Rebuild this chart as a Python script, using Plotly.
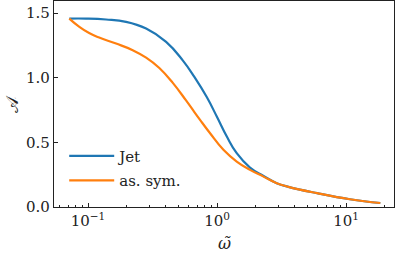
import plotly.graph_objects as go
import numpy as np

omega_jet = [0.0716, 0.0965, 0.138, 0.197, 0.282, 0.403, 0.542, 0.667, 0.832, 0.995, 1.19, 1.42, 1.80, 2.29, 2.90, 3.57, 5.96, 10.7, 18.4]
A_jet = [1.457, 1.457, 1.450, 1.432, 1.380, 1.277, 1.134, 1.006, 0.850, 0.700, 0.545, 0.416, 0.305, 0.240, 0.184, 0.156, 0.107, 0.060, 0.031]

omega_sym = [0.0716, 0.0857, 0.102, 0.122, 0.165, 0.222, 0.282, 0.357, 0.454, 0.575, 0.667, 0.738, 0.883, 1.12, 1.42, 1.80, 2.29, 2.90, 3.57, 5.96, 10.7, 18.4]
A_sym = [1.457, 1.393, 1.345, 1.310, 1.264, 1.213, 1.155, 1.075, 0.960, 0.824, 0.734, 0.674, 0.570, 0.442, 0.351, 0.287, 0.235, 0.184, 0.156, 0.107, 0.060, 0.031]

x_major = [0.1, 1, 10]
x_major_text = ["10<sup>−1</sup>", "10<sup>0</sup>", "10<sup>1</sup>"]
x_minor = [m * d for d in (0.01, 0.1, 1, 10) for m in range(2, 10)]
y_ticks = [0.0, 0.5, 1.0, 1.5]

FONT = "DejaVu Serif"
FS = 15

fig = go.Figure()
fig.add_trace(go.Scatter(x=omega_jet, y=A_jet, mode="lines", name="Jet", legendgroup="a",
                         line=dict(color="#1f77b4", width=2.2, shape="spline", smoothing=1.3)))
fig.add_trace(go.Scatter(x=omega_sym, y=A_sym, mode="lines", name="as. sym.", legendgroup="b",
                         line=dict(color="#ff7f0e", width=2.2, shape="spline", smoothing=1.3)))

fig.update_layout(
    width=397, height=254,
    margin=dict(l=54, r=3, t=1, b=47),
    paper_bgcolor="white", plot_bgcolor="white",
    font=dict(family=FONT, size=FS, color="#222"),
    showlegend=True,
    legend=dict(x=0.03, y=0.05, xanchor="left", yanchor="bottom", bgcolor="rgba(0,0,0,0)",
                tracegroupgap=2, traceorder="grouped", itemwidth=45, font=dict(size=FS)),
    xaxis=dict(type="log", range=[np.log10(0.0545), np.log10(23.5)],
               tickmode="array", tickvals=x_major, ticktext=x_major_text,
               ticks="inside", ticklen=4, tickwidth=1, tickcolor="#222",
               minor=dict(tickmode="array", tickvals=x_minor, ticks="inside", ticklen=2, tickwidth=0.8, tickcolor="#222", showgrid=False),
               showline=True, linecolor="#222", linewidth=1.3, mirror=True,
               showgrid=False, zeroline=False, automargin=False),
    yaxis=dict(range=[0, 1.593], tickmode="array", tickvals=y_ticks, tickformat=".1f",
               ticks="inside", ticklen=4, tickwidth=1, tickcolor="#222",
               showline=True, linecolor="#222", linewidth=1.3, mirror=True,
               showgrid=False, zeroline=False, automargin=False),
    annotations=[
        dict(text="<i>ω̃</i>", x=0.5, y=-0.175, xref="paper", yref="paper", xanchor="center", yanchor="middle",
             showarrow=False, font=dict(size=FS + 1)),
        dict(text="𝒜", x=-0.125, y=0.5, xref="paper", yref="paper", xanchor="center", yanchor="middle",
             showarrow=False, textangle=-90, font=dict(size=FS + 2)),
    ],
)

fig.write_html("out.html", config={"displayModeBar": False})
with open("out.html", "r", encoding="utf-8") as f:
    html = f.read()
html = html.replace("<head>", "<head><style>html,body{margin:0;padding:0;}</style>", 1)
with open("out.html", "w", encoding="utf-8") as f:
    f.write(html)
